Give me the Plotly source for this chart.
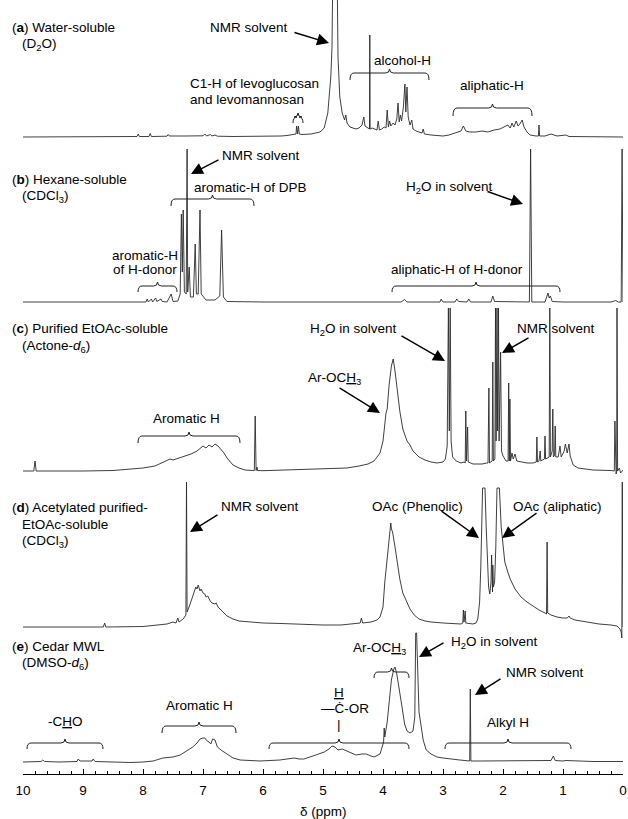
import plotly.graph_objects as go

# ---------------- data: (chemical shift ppm, intensity) ----------------
SPEC_A = [(10.0,0),(9.4,0.3),(8.6,0.3),(8.1,0.5),(8.08,3),(8.06,0.5),(7.9,0.5),(7.88,3.5),(7.86,0.5),
          (7.6,0.8),(7.58,2.5),(7.56,1),(7.3,1),(7.0,1.2),(6.97,3),(6.94,1),(6.88,2.5),(6.85,1),(6.8,2),
          (6.76,0.8),(6.5,0.5),(6.0,0.5),(5.7,1),(5.6,1.5),(5.5,2),(5.45,3),(5.44,11),(5.425,3),(5.41,11),
          (5.395,3),(5.35,2.5),(5.2,3),(5.05,5),(4.98,9),(4.92,24),(4.87,60),(4.85,90),(4.83,200),(4.77,200),
          (4.75,80),(4.72,40),(4.68,24),(4.64,17),(4.62,22),(4.6,14),(4.55,10),(4.5,9),(4.45,8),(4.4,9),
          (4.35,12),(4.32,20),(4.3,11),(4.25,9),(4.225,8),(4.22,102),(4.215,8),(4.18,9),(4.12,8),(4.1,7),
          (4.08,16),(4.06,7),(4.02,8),(3.98,10),(3.95,9),(3.93,27),(3.91,10),(3.89,16),(3.87,11),(3.83,14),
          (3.8,12),(3.77,18),(3.75,34),(3.73,15),(3.71,22),(3.69,16),(3.66,30),(3.645,40),(3.635,53),
          (3.62,25),(3.6,50),(3.58,20),(3.55,12),(3.52,17),(3.5,8),(3.45,6),(3.4,5),(3.35,4),(3.33,8),
          (3.31,3),(3.2,2),(3.0,1),(2.9,2),(2.82,4),(2.75,5),(2.7,6),(2.66,11),(2.62,6),(2.55,5),(2.45,5),
          (2.35,6),(2.25,5),(2.15,7),(2.05,8),(1.98,10),(1.92,12),(1.88,9),(1.85,14),(1.82,10),(1.78,16),
          (1.75,11),(1.72,13),(1.68,17),(1.65,10),(1.6,5),(1.55,2),(1.45,1),(1.41,1),(1.4,12),(1.39,1),
          (1.3,1),(1.2,3),(1.1,1),(0.95,2),(0.9,0.5),(0.0,0)]

SPEC_B = [(10.0,0),(8.5,0),(8.0,0.5),(7.95,0),(7.93,3),(7.91,0),(7.86,3),(7.84,0),(7.79,4),(7.77,0.5),
          (7.7,3),(7.68,0.5),(7.6,0),(7.53,8),(7.5,0.5),(7.42,1),(7.38,8),(7.36,88),(7.345,30),(7.33,92),
          (7.31,10),(7.28,8),(7.265,153),(7.255,10),(7.23,35),(7.21,5),(7.16,5),(7.13,58),(7.11,8),(7.08,8),
          (7.05,92),(7.03,8),(6.95,2),(6.8,2),(6.72,6),(6.69,72),(6.66,5),(6.6,0.5),(6.0,0),(3.7,0),
          (3.64,2.5),(3.6,0),(3.05,0),(3.03,3),(3.0,0),(2.8,0),(2.77,3),(2.74,0.5),(2.6,0),(2.57,3),
          (2.54,0),(2.2,0),(2.17,6),(2.14,0.5),(1.56,0),(1.54,153),(1.52,0),(1.3,0),(1.25,9),(1.23,4),
          (1.21,6),(1.18,0.5),(1.0,0),(0.2,0),(0.12,1.5),(0.08,0),(0.03,0),(0.015,153),(0.0,0)]

SPEC_C = [(10.0,0),(9.82,0),(9.8,10),(9.78,0),(9.0,0),(8.5,0.5),(8.3,1.5),(8.0,3),(7.8,5),(7.6,10),
          (7.55,12),(7.5,11),(7.4,13),(7.3,15),(7.2,17),(7.1,20),(7.05,23),(7.0,25),(6.95,23),(6.9,26),
          (6.85,24),(6.8,27),(6.75,25),(6.7,22),(6.65,18),(6.6,13),(6.55,9),(6.5,6),(6.4,3),(6.3,1),
          (6.17,0.5),(6.145,0.5),(6.13,55),(6.115,0.5),(6.1,4),(6.09,0.5),(6.0,0.3),(5.5,1),(5.0,2),
          (4.6,3),(4.4,5),(4.25,7),(4.15,10),(4.05,18),(4.0,30),(3.97,50),(3.95,58),(3.93,62),(3.9,85),
          (3.86,105),(3.83,112),(3.8,100),(3.76,80),(3.72,60),(3.67,42),(3.6,30),(3.55,26),(3.5,20),
          (3.4,14),(3.3,11),(3.2,9),(3.1,8),(3.0,9),(2.96,12),(2.93,25),(2.91,163),(2.895,40),(2.88,163),
          (2.865,30),(2.84,14),(2.78,10),(2.7,8),(2.65,9),(2.63,8),(2.62,60),(2.61,10),(2.59,44),(2.58,9),
          (2.5,7),(2.35,7),(2.27,8),(2.25,8),(2.235,83),(2.225,8),(2.18,10),(2.17,109),(2.16,10),
          (2.135,12),(2.125,163),(2.115,30),(2.1,163),(2.09,40),(2.075,163),(2.065,30),(2.04,119),
          (2.025,20),(2.0,15),(1.95,10),(1.915,10),(1.905,88),(1.895,10),(1.885,72),(1.875,10),(1.85,18),
          (1.83,12),(1.8,17),(1.77,10),(1.7,9),(1.6,8),(1.5,8),(1.445,9),(1.435,34),(1.425,9),(1.4,10),
          (1.38,20),(1.37,10),(1.31,12),(1.3,35),(1.29,12),(1.23,14),(1.22,163),(1.21,14),(1.18,20),
          (1.17,62),(1.16,14),(1.14,16),(1.13,45),(1.12,14),(1.08,14),(1.05,25),(1.03,14),(0.98,20),
          (0.96,27),(0.93,18),(0.9,27),(0.88,15),(0.83,6),(0.75,3),(0.5,1),(0.2,0.5),(0.145,0),(0.135,50),
          (0.125,0),(0.115,-3),(0.105,0),(0.1,163),(0.09,0),(0.06,3),(0.04,-2),(0.0,1)]

SPEC_D = [(10.0,0),(9.0,0),(8.66,0),(8.64,4),(8.62,0),(8.0,0.5),(7.75,2),(7.6,3),(7.5,5),(7.45,4),
          (7.42,9),(7.4,5),(7.33,8),(7.3,10),(7.285,12),(7.275,145),(7.265,15),(7.22,22),(7.18,30),
          (7.15,35),(7.12,40),(7.1,38),(7.08,42),(7.05,36),(7.03,38),(7.0,34),(6.97,33),(6.95,30),
          (6.92,31),(6.88,26),(6.85,24),(6.8,23),(6.78,24),(6.75,20),(6.7,17),(6.65,14),(6.6,11),(6.5,8),
          (6.4,6),(6.2,5),(6.0,4),(5.7,3.5),(5.3,2.5),(5.0,2),(4.7,2),(4.45,3),(4.38,4),(4.36,9),(4.34,4),
          (4.2,5),(4.1,7),(4.05,10),(4.0,20),(3.97,45),(3.94,65),(3.91,85),(3.88,97),(3.87,104),(3.86,98),
          (3.84,95),(3.8,80),(3.76,62),(3.72,48),(3.67,34),(3.6,24),(3.55,18),(3.48,12),(3.4,8),(3.3,6),
          (3.2,5),(3.0,4),(2.8,3),(2.7,3),(2.67,4),(2.66,17),(2.65,5),(2.63,16),(2.62,4),(2.5,3),(2.45,4),
          (2.42,8),(2.39,25),(2.37,60),(2.34,139),(2.30,139),(2.28,100),(2.26,60),(2.24,40),(2.22,33),
          (2.2,45),(2.19,72),(2.18,40),(2.175,35),(2.17,62),(2.16,40),(2.14,45),(2.12,80),(2.1,139),
          (2.06,139),(2.03,100),(2.0,80),(1.97,65),(1.92,55),(1.88,48),(1.8,38),(1.7,30),(1.6,25),
          (1.5,21),(1.4,17),(1.3,14),(1.275,13),(1.265,85),(1.255,14),(1.2,12),(1.1,10),(1.0,9),(0.93,9),
          (0.9,11),(0.88,9),(0.8,7),(0.6,5),(0.4,3),(0.2,2),(0.1,1),(0.05,-2),(0.03,-5),(0.02,-11),
          (0.012,145),(0.0,0)]

SPEC_E = [(10.0,0),(9.7,0.5),(9.67,2),(9.64,0.5),(9.4,0),(9.1,0.5),(9.08,3),(9.05,1),(8.85,1),(8.83,3),
          (8.8,0.5),(8.5,0),(8.2,-0.5),(8.0,0),(7.83,1),(7.67,4),(7.5,5),(7.38,7),(7.25,12),(7.17,15),
          (7.1,19),(7.05,23),(7.0,24),(6.97,24),(6.93,21),(6.9,20),(6.87,18),(6.84,23),(6.8,22),(6.76,15),
          (6.7,12),(6.6,8),(6.5,4),(6.38,2),(6.05,1),(5.72,2),(5.55,3),(5.48,4),(5.4,3),(5.32,3),(5.12,7),
          (4.98,10),(4.9,13),(4.85,16),(4.8,15),(4.75,12),(4.68,13),(4.6,11),(4.45,7),(4.35,8),(4.28,8),
          (4.2,6),(4.15,5),(4.05,8),(4.0,18),(3.99,20),(3.98,34),(3.97,25),(3.93,40),(3.9,60),(3.86,82),
          (3.82,93),(3.8,95),(3.77,88),(3.73,74),(3.68,54),(3.64,38),(3.6,31),(3.55,29),(3.5,31),(3.47,45),
          (3.455,129),(3.44,129),(3.42,80),(3.4,50),(3.37,38),(3.33,22),(3.28,12),(3.2,8),(3.1,5),
          (3.0,4),(2.72,2),(2.6,1.5),(2.555,1),(2.545,73),(2.535,1),(2.38,1),(2.0,1),(1.7,1.5),(1.2,1.5),
          (1.16,6),(1.13,1.5),(1.0,1),(0.95,1.5),(0.5,0.5),(0.0,0.5)]

SPECTRA = [SPEC_A, SPEC_B, SPEC_C, SPEC_D, SPEC_E]
TICK_VALUES = [10, 9, 8, 7, 6, 5, 4, 3, 2, 1, 0]
TICK_LABELS = ["10", "9", "8", "7", "6", "5", "4", "3", "2", "1", "0"]

# ---------------- layout helpers (pixel frame of the 628x819 page) ----------------
W, H = 628, 819
L, R, T, B = 23, 5, 0, 45
PLOT_W = W - L - R
PLOT_H = H - T - B
BASELINES_PX = [137, 302, 471, 627, 762]   # vertical stacking of the spectra
FONT = "Liberation Sans, Arial, sans-serif"
FS = 13.5

def X(px):
    return 10 - (px - L) / 60.0

def Y(py):
    return PLOT_H - py

def PX(px):
    return (px - L) / PLOT_W

def PY(py):
    return (PLOT_H - py) / PLOT_H

fig = go.Figure()
for spec, base in zip(SPECTRA, BASELINES_PX):
    xs = [p for p, _ in spec]
    ys = [h + Y(base) for _, h in spec]
    fig.add_trace(go.Scatter(x=xs, y=ys, mode="lines",
                             line=dict(color="#2a2a2a", width=0.9),
                             hoverinfo="skip", showlegend=False))

annotations = []

def label(text, px, py, anchor="center"):
    annotations.append(dict(text=text, x=PX(px), y=PY(py), xref="paper", yref="paper",
                            xanchor=anchor, yanchor="middle", showarrow=False,
                            font=dict(family=FONT, size=FS, color="black")))

def arrow(sx, sy, tx, ty):
    annotations.append(dict(text="", x=X(tx), y=Y(ty), ax=X(sx), ay=Y(sy),
                            xref="x", yref="y", axref="x", ayref="y",
                            showarrow=True, arrowhead=2, arrowsize=1.7,
                            arrowwidth=1.4, arrowcolor="black", standoff=0))

shapes = []

def brace(x1, x2, ytip, yline, yend):
    xm = (x1 + x2) / 2.0
    r = 4
    pts = [("M", [(x1, yend)]),
           ("Q", [(x1, yline), (x1 + r, yline)]),
           ("L", [(xm - r, yline)]),
           ("Q", [(xm, yline), (xm, ytip)]),
           ("Q", [(xm, yline), (xm + r, yline)]),
           ("L", [(x2 - r, yline)]),
           ("Q", [(x2, yline), (x2, yend)])]
    path = " ".join(c + " " + " ".join(f"{X(a):.4f},{Y(b):.2f}" for a, b in ps) for c, ps in pts)
    shapes.append(dict(type="path", path=path, xref="x", yref="y",
                       line=dict(color="#222", width=1)))

# (a)
label("(<b>a</b>) Water-soluble", 10, 28, "left")
label("(D<sub>2</sub>O)", 20, 45, "left")
label("NMR solvent", 249, 28)
arrow(293, 32, 329, 43)
label("alcohol-H", 402, 61)
brace(350, 429, 69, 73, 80)
label("C1-H of levoglucosan", 188, 83, "left")
label("and levomannosan", 188, 99, "left")
brace(293, 303, 113, 117, 123)
label("aliphatic-H", 492, 85)
brace(453, 532, 104, 108, 116)

# (b)
label("(<b>b</b>) Hexane-soluble", 10, 180, "left")
label("(CDCl<sub>3</sub>)", 20, 197, "left")
label("NMR solvent", 261, 155)
arrow(220, 159, 191, 174)
label("aromatic-H of DPB", 250, 187)
brace(171, 254, 195, 199, 206)
label("H<sub>2</sub>O in solvent", 449, 187)
arrow(486, 191, 523, 204)
label("aromatic-H", 145, 255)
label("of H-donor", 145, 270)
brace(138, 177, 282, 286, 292)
label("aliphatic-H of H-donor", 457, 270)
brace(392, 560, 282, 286, 292)

# (c)
label("(<b>c</b>) Purified EtOAc-soluble", 10, 328, "left")
label("(Actone-<i>d</i><sub>6</sub>)", 20, 346, "left")
label("H<sub>2</sub>O in solvent", 353, 329)
arrow(400, 335, 445, 361)
label("NMR solvent", 556, 328)
arrow(530, 337, 502, 353)
label("Ar-OC<u>H</u><sub>3</sub>", 334, 378)
arrow(338, 387, 380, 413)
label("Aromatic H", 186, 418)
brace(138, 240, 432, 436, 443)

# (d)
label("(<b>d</b>) Acetylated purified-", 10, 507, "left")
label("EtOAc-soluble", 20, 524, "left")
label("(CDCl<sub>3</sub>)", 20, 541, "left")
label("NMR solvent", 260, 506)
arrow(219, 514, 190, 532)
label("OAc (Phenolic)", 417, 506)
arrow(440, 510, 479, 538)
label("OAc (aliphatic)", 557, 506)
arrow(538, 512, 502, 538)

# (e)
label("(<b>e</b>) Cedar MWL", 10, 646, "left")
label("(DMSO-<i>d</i><sub>6</sub>)", 20, 663, "left")
label("Ar-OC<u>H</u><sub>3</sub>", 379, 648)
brace(374, 409, 668, 672, 678)
label("H<sub>2</sub>O in solvent", 494, 642)
arrow(445, 642, 419, 657)
label("NMR solvent", 545, 672)
arrow(502, 678, 475, 695)
label("Aromatic H", 199, 705)
brace(162, 236, 722, 726, 733)
label("-C<u>H</u>O", 65, 721)
brace(27, 103, 739, 743, 749)
label("<u>H</u>", 339, 692)
label("\u2014\u010a-OR", 345, 708)
label("|", 339, 724)
brace(269, 409, 739, 743, 749)
label("Alkyl H", 508, 722)
brace(445, 571, 739, 743, 749)

# axis title
label("\u03b4 (ppm)", L + PLOT_W / 2, 811)

fig.update_layout(
    width=W, height=H,
    margin=dict(l=L, r=R, t=T, b=B, pad=0),
    paper_bgcolor="white", plot_bgcolor="white",
    font=dict(family=FONT, size=FS, color="black"),
    annotations=annotations, shapes=shapes,
    xaxis=dict(range=[10, 0], showline=True, linecolor="black", linewidth=1,
               ticks="inside", ticklen=5, tickwidth=1, tickcolor="black",
               tickvals=TICK_VALUES, ticktext=TICK_LABELS,
               minor=dict(dtick=0.2, tick0=0, ticks="inside", ticklen=3, tickwidth=1,
                          tickcolor="black", showgrid=False),
               showgrid=False, zeroline=False,
               tickfont=dict(family=FONT, size=FS, color="black"),
               ticklabelstandoff=4, fixedrange=True),
    yaxis=dict(range=[0, PLOT_H], visible=False, fixedrange=True),
    showlegend=False,
)

fig.write_html("out.html")
